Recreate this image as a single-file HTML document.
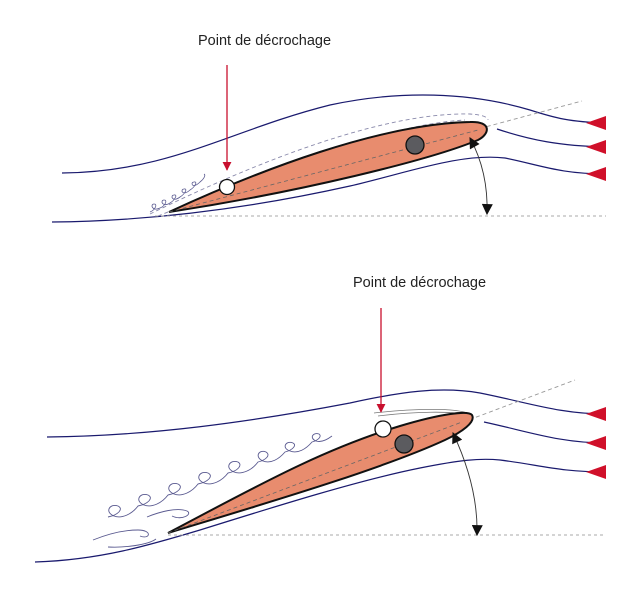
<!DOCTYPE html>
<html><head><meta charset="utf-8"><style>
html,body{margin:0;padding:0;background:#fff;}
svg{display:block;}
text{font-family:"Liberation Sans",sans-serif;font-size:14.5px;fill:#222;}
</style></head><body>
<svg width="640" height="593" viewBox="0 0 640 593" xmlns="http://www.w3.org/2000/svg">
<defs>
<marker id="bk" viewBox="0 0 10 10" refX="9" refY="5" markerUnits="userSpaceOnUse" markerWidth="13" markerHeight="11" orient="auto-start-reverse"><path d="M0,0L10,5L0,10z" fill="#111"/></marker>
<marker id="rd" viewBox="0 0 10 10" refX="9" refY="5" markerUnits="userSpaceOnUse" markerWidth="9" markerHeight="9" orient="auto"><path d="M0,0L10,5L0,10z" fill="#c8102e"/></marker>
</defs>

<!-- TOP -->
<text x="198" y="45">Point de décrochage</text>
<g fill="none" stroke="#1a1a6e" stroke-width="1.2">
<path d="M62,173 C170,172 230,130 330,105 C400,90 470,92 530,110 C555,118 570,122 606,123"/>
<path d="M497,129 C530,140 560,146 606,147"/>
<path d="M52,222 C160,221 260,206 350,186 C410,172 460,153 505,158 C540,165 560,174 606,174"/>
</g>
<g fill="none" stroke="#8888aa" stroke-width="0.9" stroke-dasharray="4,3">
<path d="M150,214 C250,165 380,112 470,114 C485,115 488,118 488,120"/>
<path d="M158,216 C260,175 380,125 465,120"/>
</g>
<line x1="169" y1="212" x2="582" y2="101" stroke="#999" stroke-width="0.9" stroke-dasharray="4,3"/>
<line x1="155" y1="216" x2="606" y2="216" stroke="#aaa" stroke-width="1" stroke-dasharray="3,3"/>
<path d="M169,212 C260,170 380,124 470,122 C492,121 490,134 478,140 C430,160 300,192 169,212 Z" fill="#e88c6e" stroke="#111" stroke-width="2"/>
<line x1="169" y1="212" x2="478" y2="130" stroke="#666" stroke-width="0.8" stroke-dasharray="4,3"/>
<path d="M150,212 c5,-2 8,-8 4,-8 c-4,0 -2,8 6,4 c5,-2 8,-8 4,-8 c-4,0 -2,8 6,3 c5,-3 8,-9 4,-8 c-4,0 -2,8 6,2 c5,-3 8,-9 4,-8 c-4,0 -2,8 6,1 c5,-3 8,-9 4,-8 c-4,0 -2,8 6,0 c4,-3 6,-7 4,-8" fill="none" stroke="#5a5a90" stroke-width="0.8"/>
<circle cx="227" cy="187" r="7.5" fill="#fff" stroke="#111" stroke-width="1.3"/>
<circle cx="415" cy="145" r="9" fill="#5b5b5f" stroke="#111" stroke-width="1.3"/>
<line x1="227" y1="65" x2="227" y2="170" stroke="#c8102e" stroke-width="1.3" marker-end="url(#rd)"/>
<path d="M470,138 C482,160 488,185 487,214" fill="none" stroke="#333" stroke-width="0.9" marker-start="url(#bk)" marker-end="url(#bk)"/>
<g fill="#d0102a"><path d="M586,123 L606,116 L606,130z"/><path d="M586,147 L606,140 L606,154z"/><path d="M586,174 L606,167 L606,181z"/></g>

<!-- BOTTOM -->
<text x="353" y="287">Point de décrochage</text>
<g fill="none" stroke="#1a1a6e" stroke-width="1.2">
<path d="M47,437 C150,436 250,422 350,403 C400,392 440,386 480,393 C530,403 560,414 606,414"/>
<path d="M484,422 C530,432 560,443 606,443"/>
<path d="M35,562 C100,560 150,545 200,530 C280,505 360,480 420,468 C460,460 480,458 500,460 C540,465 560,472 606,472"/>
</g>
<line x1="168" y1="533" x2="575" y2="380" stroke="#999" stroke-width="0.9" stroke-dasharray="4,3"/>
<line x1="168" y1="535" x2="606" y2="535" stroke="#aaa" stroke-width="1" stroke-dasharray="3,3"/>
<path d="M374,413 C410,409 455,407 470,414" fill="none" stroke="#777" stroke-width="0.8"/>
<path d="M378,416 C410,412 455,410 470,416" fill="none" stroke="#777" stroke-width="0.8"/>
<path d="M168,533 C250,490 320,450 400,426 C440,414 468,410 472,415 C476,422 462,432 445,440 C380,470 260,505 168,533 Z" fill="#e88c6e" stroke="#111" stroke-width="2"/>
<line x1="168" y1="533" x2="462" y2="422" stroke="#666" stroke-width="0.8" stroke-dasharray="4,3"/>
<path d="M108,517 c10,-2 16,-8 10,-11 c-8,-3 -14,6 -4,10 c8,3 18,-2 24,-10 c10,-2 16,-8 10,-11 c-8,-3 -14,6 -4,10 c8,3 18,-2 24,-10 c10,-2 16,-8 10,-11 c-8,-3 -14,6 -4,10 c8,3 18,-2 24,-10 c10,-2 16,-8 10,-11 c-8,-3 -14,6 -4,10 c8,3 18,-2 24,-10 c10,-2 15,-8 10,-11 c-8,-3 -14,6 -4,10 c8,3 18,-2 24,-10 c8,-2 13,-7 8,-10 c-7,-3 -12,5 -3,9 c8,3 16,-2 22,-9 c8,-2 12,-7 8,-9 c-7,-3 -12,5 -3,8 c8,3 16,-2 22,-9 c7,-2 10,-6 7,-8 c-6,-2 -10,4 -3,7 c6,2 12,-2 16,-5" fill="none" stroke="#5a5a90" stroke-width="0.9"/>
<path d="M147,517 c12,-5 30,-10 40,-6 c6,3 -5,10 -15,5 M93,540 c15,-6 30,-10 45,-10 c15,0 12,10 2,6 M108,547 c15,1 40,-2 48,-8" fill="none" stroke="#5a5a90" stroke-width="0.9"/>
<circle cx="383" cy="429" r="8" fill="#fff" stroke="#111" stroke-width="1.3"/>
<circle cx="404" cy="444" r="9" fill="#5b5b5f" stroke="#111" stroke-width="1.3"/>
<line x1="381" y1="308" x2="381" y2="412" stroke="#c8102e" stroke-width="1.3" marker-end="url(#rd)"/>
<path d="M453,433 C468,465 478,500 477,535" fill="none" stroke="#333" stroke-width="0.9" marker-start="url(#bk)" marker-end="url(#bk)"/>
<g fill="#d0102a"><path d="M586,414 L606,407 L606,421z"/><path d="M586,443 L606,436 L606,450z"/><path d="M586,472 L606,465 L606,479z"/></g>
</svg>
</body></html>
